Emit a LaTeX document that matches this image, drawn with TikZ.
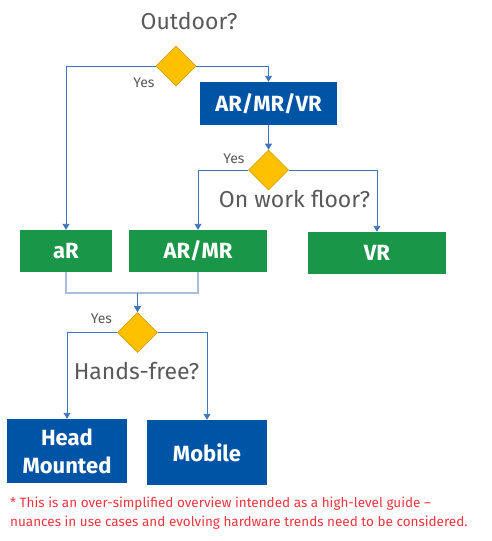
\documentclass[tikz,border=0pt]{standalone}
\usepackage{fontspec}
\setmainfont{Fira Sans}
\usetikzlibrary{shapes.geometric,arrows.meta}
\definecolor{bxblue}{HTML}{0054A6}
\definecolor{bxgreen}{HTML}{1A9648}
\definecolor{dyellow}{HTML}{FFC000}
\definecolor{dborder}{HTML}{D9A300}
\definecolor{lineblue}{HTML}{3F75BE}
\definecolor{joinblue}{HTML}{A9BEDC}
\definecolor{qgrey}{HTML}{595959}
\definecolor{notered}{HTML}{F5333F}
\tikzset{
  bluebox/.style={fill=bxblue,text=white,inner sep=0pt,font=\fontsize{22}{28}\selectfont\bfseries,align=center},
  greenbox/.style={fill=bxgreen,text=white,inner sep=0pt,font=\fontsize{22}{28}\selectfont\bfseries},
  decision/.style={diamond,fill=dyellow,draw=dborder,line width=0.6pt,minimum width=40pt,minimum height=40pt,inner sep=0pt},
  question/.style={text=qgrey,font=\fontsize{23}{26}\selectfont,inner sep=0pt},
  yeslabel/.style={text=qgrey,font=\fontsize{14}{16}\selectfont,inner sep=0pt},
  conn/.style={draw=lineblue,line width=0.9pt,-{Triangle[width=7pt,length=6pt]}},
  joinline/.style={draw=joinblue,line width=1.2pt},
  note/.style={text=notered,font=\fontsize{13.5}{18.7}\selectfont,align=left,inner sep=0pt,anchor=north west}
}
\begin{document}
\begin{tikzpicture}[x=1pt,y=-1pt]
\useasboundingbox (0,0) rectangle (491,541);
% decisions
\node[decision] (d1) at (176,66) {};
\node[decision] (d2) at (268.5,170) {};
\node[decision] (d3) at (137.5,332.5) {};
% boxes
\node[bluebox,minimum width=137pt,minimum height=43pt] (amv) at (268.5,103.5) {AR/MR/VR};
\node[greenbox,minimum width=92pt,minimum height=42pt] (ar) at (66,251) {aR};
\node[greenbox,minimum width=138pt,minimum height=42pt] (armr) at (198,251) {AR/MR};
\node[greenbox,minimum width=138pt,minimum height=42pt] (vr) at (377,253) {VR};
\node[bluebox,minimum width=120pt,minimum height=64pt] (hm) at (67,451) {Head\\Mounted};
\node[bluebox,minimum width=120pt,minimum height=65pt] (mob) at (207,452.5) {Mobile};
% texts
\node[question] (q1) at (189,21) {Outdoor?};
\node[question] (q2) at (294.5,199) {On work floor?};
\node[question] (q3) at (136.5,371) {Hands-free?};
\node[yeslabel] (y1) at (144,83) {Yes};
\node[yeslabel] (y2) at (234,159) {Yes};
\node[yeslabel] (y3) at (101.5,318.5) {Yes};
\node[note] (fn) at (10,497) {* This is an over-simplified overview intended as a high-level guide –\\nuances in use cases and evolving hardware trends need to be considered.};
% connectors
\draw[conn] (d1.west) -| (ar.north);
\draw[conn] (d1.east) -| (amv.north);
\draw[conn] (amv.south) -- (d2.north);
\draw[conn] (d2.west) -| (armr.north);
\draw[conn] (d2.east) -| (vr.north);
\coordinate (jn) at (137.5,293);
\draw[joinline] (ar.south) |- (jn) -| (armr.south);
\draw[conn] (jn) -- (d3.north);
\draw[conn] (d3.west) -| (hm.north);
\draw[conn] (d3.east) -| (mob.north);
\end{tikzpicture}
\end{document}
